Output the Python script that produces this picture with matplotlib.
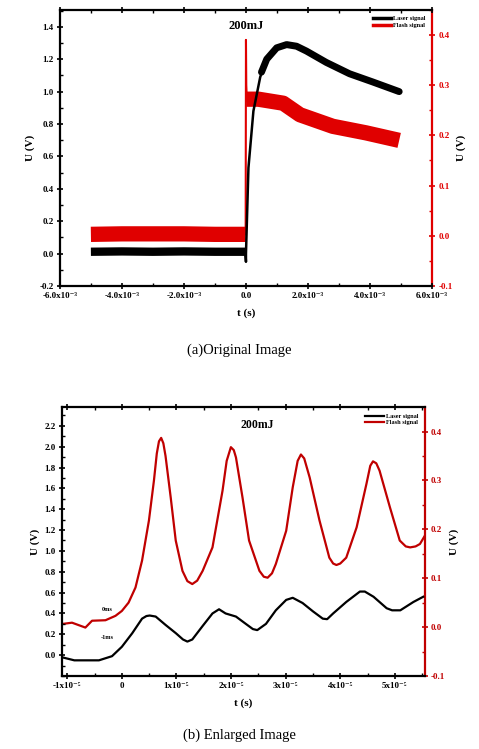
import matplotlib
matplotlib.use("Agg")
import matplotlib.pyplot as plt
from matplotlib.ticker import AutoMinorLocator

plt.rcParams['font.family'] = ['Liberation Serif', 'DejaVu Serif']

# ---------------- (a) original ----------------
a_xticks = [-6e-3, -4e-3, -2e-3, 0, 2e-3, 4e-3, 6e-3]
a_xticklabels = ['-6.0x10⁻³', '-4.0x10⁻³', '-2.0x10⁻³', '0.0',
                 '2.0x10⁻³', '4.0x10⁻³', '6.0x10⁻³']
a_yticks = [-0.2, 0.0, 0.2, 0.4, 0.6, 0.8, 1.0, 1.2, 1.4]
a_y2ticks = [-0.1, 0.0, 0.1, 0.2, 0.3, 0.4]

# laser signal (trace centre, V): baseline, edge, plateau/decay
a_laser_base_t = [-5.0e-3, -4.0e-3, -3.0e-3, -2.0e-3, -1.0e-3, -0.02e-3]
a_laser_base_v = [0.012, 0.014, 0.012, 0.014, 0.012, 0.012]
a_laser_edge_t = [-0.02e-3, 0.0, 0.0, 0.08e-3, 0.24e-3, 0.46e-3, 0.67e-3]
a_laser_edge_v = [0.012, -0.05, 0.0, 0.53, 0.88, 1.09, 1.20]
a_laser_top_t = [0.50e-3, 0.67e-3, 0.99e-3, 1.31e-3, 1.63e-3,
                 1.95e-3, 2.59e-3, 3.34e-3, 4.08e-3, 4.94e-3]
a_laser_top_v = [1.12, 1.20, 1.27, 1.29, 1.28,
                 1.25, 1.18, 1.11, 1.06, 1.00]
# flash signal (trace centre, V, right axis)
a_flash_base_t = [-5.0e-3, -4.0e-3, -3.0e-3, -2.0e-3, -1.0e-3, -0.01e-3]
a_flash_base_v = [0.003, 0.004, 0.004, 0.004, 0.003, 0.003]
a_flash_spike_t = [-0.01e-3, 0.0, 0.01e-3, 0.03e-3]
a_flash_spike_v = [0.003, 0.39, 0.30, 0.27]
a_flash_top_t = [0.01e-3, 0.4e-3, 1.2e-3, 1.74e-3, 2.8e-3, 3.87e-3, 4.94e-3]
a_flash_top_v = [0.272, 0.272, 0.264, 0.241, 0.218, 0.205, 0.190]

# ---------------- (b) enlarged ----------------
b_xticks = [-1e-5, 0, 1e-5, 2e-5, 3e-5, 4e-5, 5e-5]
b_xticklabels = ['-1x10⁻⁵', '0', '1x10⁻⁵', '2x10⁻⁵', '3x10⁻⁵', '4x10⁻⁵', '5x10⁻⁵']
b_yticks = [0.0, 0.2, 0.4, 0.6, 0.8, 1.0, 1.2, 1.4, 1.6, 1.8, 2.0, 2.2]
b_y2ticks = [-0.1, 0.0, 0.1, 0.2, 0.3, 0.4]

b_laser_t = [-1.1, -0.87, -0.42, -0.18, 0.0, 0.19, 0.37, 0.45, 0.51, 0.62, 0.80, 0.99,
             1.12, 1.20, 1.29, 1.48, 1.66, 1.78, 1.90, 2.09, 2.27, 2.40, 2.48, 2.64, 2.82,
             3.01, 3.13, 3.31, 3.50, 3.68, 3.76, 3.87, 4.11, 4.36, 4.45, 4.61, 4.85, 4.95,
             5.10, 5.34, 5.52]
b_laser_v = [-0.02, -0.05, -0.05, -0.01, 0.08, 0.21, 0.35, 0.375, 0.38, 0.37, 0.29, 0.21,
             0.15, 0.13, 0.15, 0.28, 0.40, 0.44, 0.40, 0.37, 0.30, 0.25, 0.24, 0.30, 0.43,
             0.53, 0.55, 0.50, 0.42, 0.35, 0.345, 0.40, 0.51, 0.61, 0.61, 0.56, 0.45, 0.43,
             0.43, 0.51, 0.56]
b_flash_t = [-1.115, -0.913, -0.668, -0.546, -0.30, -0.117, 0.0, 0.123, 0.25,
             0.37, 0.496, 0.588, 0.64, 0.68, 0.72, 0.76, 0.80, 0.895, 0.987, 1.11,
             1.20, 1.29, 1.38, 1.48, 1.66, 1.844, 1.92, 1.997, 2.05, 2.09, 2.21, 2.33,
             2.52, 2.60, 2.67, 2.75, 2.82, 3.01, 3.13, 3.22, 3.28, 3.34, 3.44, 3.62,
             3.80, 3.87, 3.93, 4.00, 4.11, 4.30, 4.48, 4.55, 4.60, 4.66, 4.72, 4.91,
             5.09, 5.20, 5.28, 5.38, 5.46, 5.55]
b_flash_v = [0.006, 0.009, -0.001, 0.013, 0.014, 0.023, 0.033, 0.050, 0.081,
             0.136, 0.218, 0.300, 0.355, 0.380, 0.387, 0.376, 0.350, 0.265, 0.177, 0.115,
             0.094, 0.088, 0.095, 0.115, 0.163, 0.279, 0.340, 0.368, 0.362, 0.347, 0.265, 0.177,
             0.115, 0.103, 0.101, 0.110, 0.129, 0.197, 0.286, 0.340, 0.353, 0.345, 0.306, 0.218,
             0.142, 0.130, 0.127, 0.130, 0.142, 0.204, 0.293, 0.330, 0.339, 0.335, 0.320, 0.245,
             0.177, 0.165, 0.163, 0.165, 0.170, 0.187]
b_laser_t = [t * 1e-5 for t in b_laser_t]
b_flash_t = [t * 1e-5 for t in b_flash_t]

RED = '#e00000'
DRED = '#c00000'

fig = plt.figure(figsize=(4.79, 7.49), dpi=100)


def style(ax, ax2, red):
    for s in ['left', 'bottom', 'top']:
        ax.spines[s].set_linewidth(1.6)
    ax.spines['right'].set_visible(False)
    ax2.spines['right'].set_color(red)
    ax2.spines['right'].set_linewidth(1.6)
    for s in ['left', 'bottom', 'top']:
        ax2.spines[s].set_visible(False)
    ax.tick_params(axis='both', which='major', direction='inout', length=5, width=1.2,
                   top=True, labelsize=6.5, pad=2)
    ax.tick_params(axis='both', which='minor', direction='in', length=2.5, width=1,
                   top=True)
    ax2.tick_params(axis='y', which='major', direction='inout', length=5, width=1.2,
                    colors=red, labelsize=6.5, pad=2)
    ax2.tick_params(axis='y', which='minor', direction='in', length=2.5, width=1,
                    colors=red)
    ax.yaxis.set_minor_locator(AutoMinorLocator(2))
    ax.xaxis.set_minor_locator(AutoMinorLocator(2))
    ax2.yaxis.set_minor_locator(AutoMinorLocator(2))
    for lab in ax.get_xticklabels() + ax.get_yticklabels() + ax2.get_yticklabels():
        lab.set_fontweight('bold')
    ax.set_ylabel('U (V)', fontsize=8, fontweight='bold', labelpad=3)
    ax2.set_ylabel('U (V)', fontsize=8, fontweight='bold', labelpad=3)
    ax.set_xlabel('t (s)', fontsize=8, fontweight='bold', labelpad=6)


# ---- panel (a)
ax = fig.add_axes([0.125, 0.618, 0.777, 0.369])
ax2 = ax.twinx()
ax.plot(a_laser_base_t, a_laser_base_v, color='black', lw=6, solid_capstyle='butt')
ax.plot(a_laser_edge_t, a_laser_edge_v, color='black', lw=1.8)
ax.plot(a_laser_top_t, a_laser_top_v, color='black', lw=5, solid_capstyle='round')
ax2.plot(a_flash_base_t, a_flash_base_v, color=RED, lw=11, solid_capstyle='butt')
ax2.plot(a_flash_spike_t, a_flash_spike_v, color=RED, lw=1.5)
ax2.plot(a_flash_top_t, a_flash_top_v, color=RED, lw=11, solid_capstyle='butt')
ax.set_xlim(-6e-3, 6e-3)
ax.set_ylim(-0.2, 1.505)
ax2.set_ylim(-0.1, 0.45)
ax.set_xticks(a_xticks)
ax.set_xticklabels(a_xticklabels)
ax.set_yticks(a_yticks)
ax.set_yticklabels([f'{v:.1f}' for v in a_yticks])
ax2.set_yticks(a_y2ticks)
ax2.set_yticklabels([f'{v:.1f}' for v in a_y2ticks])
style(ax, ax2, RED)
ax.set_zorder(ax2.get_zorder() + 1)
ax.patch.set_visible(False)
ax.text(0.0, 1.37, '200mJ', fontsize=9, fontweight='bold', ha='center', va='bottom')
h1, = ax.plot([], [], color='black', lw=2.5, label='Laser signal')
h2, = ax.plot([], [], color=RED, lw=2.5, label='Flash signal')
ax.legend(handles=[h1, h2], loc='upper right', frameon=False,
          prop=dict(size=4.5, weight='bold'), handlelength=3, handletextpad=0.3,
          labelspacing=0.2, borderaxespad=0.6)
fig.text(0.5, 0.532, '(a)Original Image', ha='center', va='center', fontsize=10.5)

# ---- panel (b)
bx = fig.add_axes([0.129, 0.0975, 0.758, 0.359])
bx2 = bx.twinx()
bx.plot(b_laser_t, b_laser_v, color='black', lw=1.6)
bx2.plot(b_flash_t, b_flash_v, color=DRED, lw=1.6)
bx.set_xlim(-1.1e-5, 5.55e-5)
bx.set_ylim(-0.2, 2.38)
bx2.set_ylim(-0.1, 0.45)
bx.set_xticks(b_xticks)
bx.set_xticklabels(b_xticklabels)
bx.set_yticks(b_yticks)
bx.set_yticklabels([f'{v:.1f}' for v in b_yticks])
bx2.set_yticks(b_y2ticks)
bx2.set_yticklabels([f'{v:.1f}' for v in b_y2ticks])
style(bx, bx2, DRED)
bx.set_zorder(bx2.get_zorder() + 1)
bx.patch.set_visible(False)
bx.text(2.48e-5, 2.21, '200mJ', fontsize=8.5, fontweight='bold', ha='center', va='center')
bx.text(-0.27e-5, 0.44, '0ms', fontsize=4.5, fontweight='bold', ha='center', va='center')
bx.text(-0.27e-5, 0.17, '-1ms', fontsize=4.5, fontweight='bold', ha='center', va='center')
g1, = bx.plot([], [], color='black', lw=1.6, label='Laser signal')
g2, = bx.plot([], [], color=DRED, lw=1.6, label='Flash signal')
bx.legend(handles=[g1, g2], loc='upper right', frameon=False,
          prop=dict(size=4.5, weight='bold'), handlelength=3, handletextpad=0.3,
          labelspacing=0.2, borderaxespad=0.6)
fig.text(0.5, 0.019, '(b) Enlarged Image', ha='center', va='center', fontsize=10.5)

fig.savefig('out.png', dpi=100)
